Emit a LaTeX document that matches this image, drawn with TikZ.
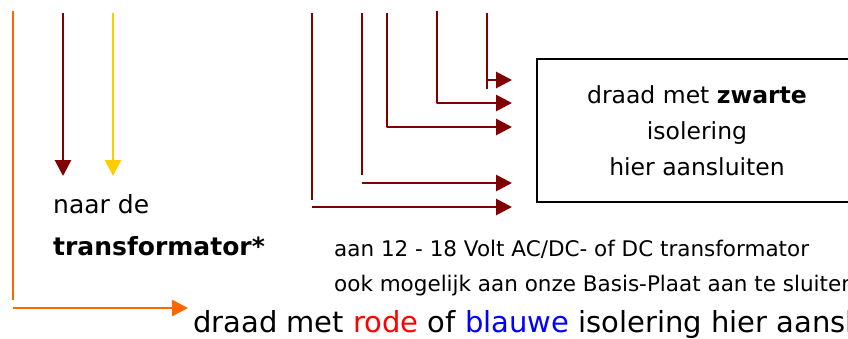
\documentclass[tikz,border=0pt]{standalone}
\usepackage{fontspec}
\setmainfont{DejaVu Sans}
\usetikzlibrary{arrows.meta}
\definecolor{wirered}{HTML}{800000}
\definecolor{wireyellow}{HTML}{FFCC00}
\definecolor{wireorange}{HTML}{FF6600}
\definecolor{txtred}{HTML}{FF0000}
\definecolor{txtblue}{HTML}{0000FF}
\begin{document}
\begin{tikzpicture}[x=1pt,y=-1pt,
  wire/.style={line width=2.8pt, line join=round},
  tip/.style={-{Triangle[length=16pt,width=16pt]}},
  lbl/.style={anchor=base west, inner sep=0pt},
  boxstyle/.style={draw, line width=1.6pt, minimum width=320pt, minimum height=143pt,
    align=center, inner sep=0pt, font=\fontsize{23.5}{36}\selectfont}]
\useasboundingbox (0,0) rectangle (848,338);
\clip (0,0) rectangle (848,338);

% orange wire
\coordinate (o1) at (13,11);
\coordinate (o2) at (13,300);
\coordinate (o3) at (13,308);
\coordinate (o4) at (188,308);
\draw[wire, wireorange] (o1) -- (o2);
\draw[wire, wireorange, tip] (o3) -- (o4);

% transformer wires
\coordinate (r1) at (63,13);
\coordinate (r2) at (63,176);
\coordinate (y1) at (113,13);
\coordinate (y2) at (113,176);
\draw[wire, wirered, tip] (r1) -- (r2);
\draw[wire, wireyellow, tip] (y1) -- (y2);

% right-hand wires
\coordinate (a1) at (312,13);
\coordinate (a2) at (312,200);
\coordinate (a3) at (312,207);
\coordinate (a4) at (512,207);
\draw[wire, wirered] (a1) -- (a2);
\draw[wire, wirered, tip] (a3) -- (a4);

\coordinate (b1) at (362,13);
\coordinate (b2) at (362,175);
\coordinate (b3) at (362,183);
\coordinate (b4) at (512,183);
\draw[wire, wirered] (b1) -- (b2);
\draw[wire, wirered, tip] (b3) -- (b4);

\coordinate (c1) at (387,13);
\coordinate (c2) at (387,127);
\coordinate (c3) at (512,127);
\draw[wire, wirered, tip] (c1) -- (c2) -- (c3);

\coordinate (d1) at (437,11);
\coordinate (d2) at (437,103);
\coordinate (d3) at (512,103);
\draw[wire, wirered, tip] (d1) -- (d2) -- (d3);

\coordinate (e1) at (487,13);
\coordinate (e2) at (487,89);
\coordinate (e3) at (487,80);
\coordinate (e4) at (512,80);
\draw[wire, wirered] (e1) -- (e2);
\draw[wire, wirered, tip] (e3) -- (e4);

% box
\node[boxstyle] (box) at (697,130.5) {draad met \textbf{zwarte}\\isolering\\hier aansluiten};

% texts
\node[lbl, font=\fontsize{25}{30}\selectfont] (naar) at (53,213) {naar de};
\node[lbl, font=\fontsize{25}{30}\selectfont\bfseries] (trafo) at (53,255) {transformator*};
\node[lbl, font=\fontsize{21.5}{26}\selectfont] (info1) at (334,256) {aan 12 - 18 Volt AC/DC- of DC transformator};
\node[lbl, font=\fontsize{21.5}{26}\selectfont] (info2) at (334,291) {ook mogelijk aan onze Basis-Plaat aan te sluiten};
\node[lbl, font=\fontsize{29}{34}\selectfont] (rood) at (193,332) {draad met \textcolor{txtred}{rode} of \textcolor{txtblue}{blauwe} isolering hier aansluiten};
\end{tikzpicture}
\end{document}
